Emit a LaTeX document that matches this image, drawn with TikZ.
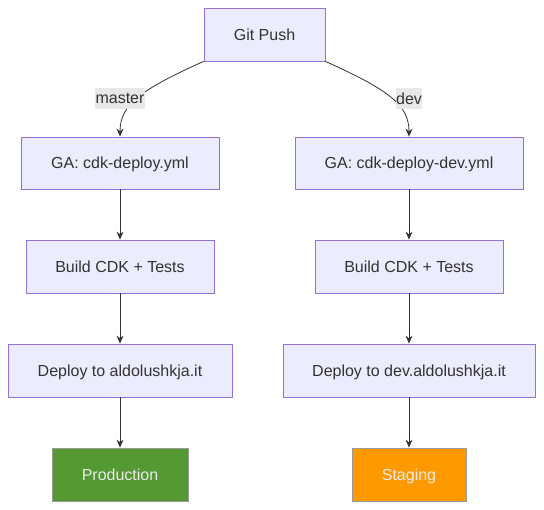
\documentclass[tikz,border=0pt]{standalone}
\usepackage{fontspec}
\setmainfont{Liberation Sans}
\usetikzlibrary{arrows.meta}
\definecolor{mfill}{HTML}{ECECFF}
\definecolor{mstroke}{HTML}{9370DB}
\definecolor{mtext}{HTML}{333333}
\definecolor{lblbg}{HTML}{E8E8E8}
\definecolor{prodfill}{HTML}{559933}
\definecolor{stagefill}{HTML}{FF9900}
\definecolor{endstroke}{HTML}{999999}
\begin{document}
\begin{tikzpicture}[x=1pt,y=-1pt,
  box/.style={draw=mstroke,fill=mfill,line width=0.8pt,text=mtext,inner sep=0pt,
    text height=11.5pt,text depth=0pt,font=\fontsize{16}{19}\selectfont},
  endbox/.style={draw=endstroke,line width=0.8pt,text=white!92!black,inner sep=0pt,
    text height=11.5pt,text depth=0pt,font=\fontsize{16}{19}\selectfont},
  lbl/.style={fill=lblbg,text=mtext,inner xsep=0.5pt,inner ysep=0pt,minimum height=21pt,font=\fontsize{16}{19}\selectfont},
  conn/.style={draw=mtext,line width=0.8pt,-{Stealth[length=8pt,width=7pt]}}]
\useasboundingbox (0,0) rectangle (544,510);
\node[box,minimum width=121pt,minimum height=53pt] (gp) at (264.5,34.5) {Git Push};
\node[box,minimum width=198pt,minimum height=52pt] (ga1) at (120,163) {GA: cdk-deploy.yml};
\node[box,minimum width=228pt,minimum height=52pt] (ga2) at (409,163) {GA: cdk-deploy-dev.yml};
\node[box,minimum width=188pt,minimum height=53pt] (b1) at (120,266.5) {Build CDK + Tests};
\node[box,minimum width=188pt,minimum height=53pt] (b2) at (409,266.5) {Build CDK + Tests};
\node[box,minimum width=224pt,minimum height=53pt] (d1) at (120,370.5) {Deploy to aldolushkja.it};
\node[box,minimum width=252pt,minimum height=53pt] (d2) at (409,370.5) {Deploy to dev.aldolushkja.it};
\node[endbox,fill=prodfill,minimum width=136pt,minimum height=53pt] (prod) at (120,474.5) {Production};
\node[endbox,fill=stagefill,minimum width=114pt,minimum height=53pt] (stag) at (409,474.5) {Staging};
\draw[conn] (gp.south west) .. controls (140,90) and (120,105) .. (ga1.north);
\draw[conn] (gp.south east) .. controls (389,90) and (409,105) .. (ga2.north);
\node[lbl] (lm) at (120,98.5) {master};
\node[lbl] (ld) at (409,98.5) {dev};
\draw[conn] (ga1) -- (b1);
\draw[conn] (b1) -- (d1);
\draw[conn] (d1) -- (prod);
\draw[conn] (ga2) -- (b2);
\draw[conn] (b2) -- (d2);
\draw[conn] (d2) -- (stag);
\end{tikzpicture}
\end{document}
